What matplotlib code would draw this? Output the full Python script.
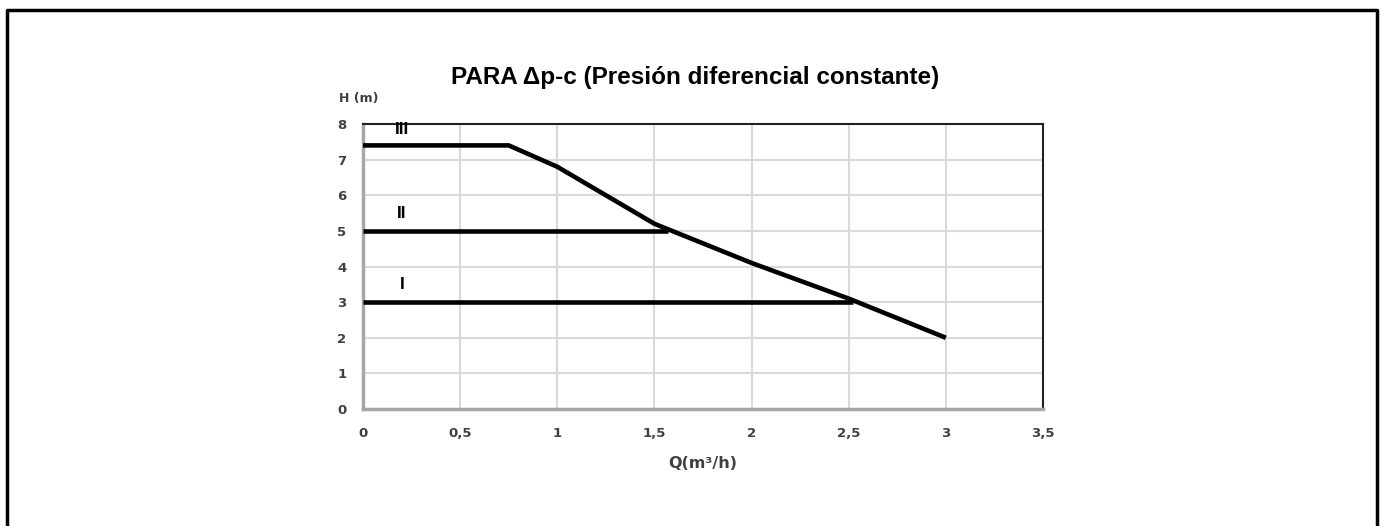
import matplotlib.pyplot as plt
from matplotlib.lines import Line2D

# curve data
q_curve = [0, 0.75, 1, 1.5, 2, 2.5, 3]
h_curve = [7.4, 7.4, 6.8, 5.2, 4.1, 3.1, 2.0]
q_II = [0, 1.57]
h_II = [5, 5]
q_I = [0, 2.52]
h_I = [3, 3]
labels = ['III', 'II', 'I']
label_q = [0.2, 0.2, 0.2]
label_h = [7.85, 5.5, 3.5]

xticks = [0, 0.5, 1, 1.5, 2, 2.5, 3, 3.5]
xticklabels = ['0', '0,5', '1', '1,5', '2', '2,5', '3', '3,5']
yticks = list(range(0, 9))

fig = plt.figure(figsize=(13.84, 5.26), dpi=100)
ax = fig.add_axes([0.2623, 0.2224, 0.4913, 0.5418])

ax.plot(q_curve, h_curve, color='black', lw=3.3, solid_capstyle='butt', zorder=3)
ax.plot(q_II, h_II, color='black', lw=3.3, solid_capstyle='butt', zorder=3)
ax.plot(q_I, h_I, color='black', lw=3.3, solid_capstyle='butt', zorder=3)
for t, x, y in zip(labels, label_q, label_h):
    ax.text(x, y, t, fontsize=12.5, fontweight='bold', family='Liberation Sans',
            ha='center', va='center', zorder=4)

ax.set_xlim(0, 3.5)
ax.set_ylim(0, 8)
ax.set_xticks(xticks)
ax.set_xticklabels(xticklabels)
ax.set_yticks(yticks)
ax.grid(True, color='#d9d9d9', lw=1.5)
ax.set_axisbelow(True)
ax.tick_params(length=0, labelsize=9.5, labelcolor='#404040')
ax.tick_params(axis='x', pad=13)
ax.tick_params(axis='y', pad=12)
for lab in ax.get_xticklabels() + ax.get_yticklabels():
    lab.set_fontweight('bold')

for s in ['left', 'bottom']:
    ax.spines[s].set_color('#a6a6a6')
    ax.spines[s].set_linewidth(2.5)
for s in ['top', 'right']:
    ax.spines[s].set_color('#222222')
    ax.spines[s].set_linewidth(1.5)

fig.text(0.502, 0.853, 'PARA \u0394p-c (Presión diferencial constante)', fontsize=17.5,
         fontweight='bold', family='Liberation Sans', ha='center', va='center')
fig.text(0.2595, 0.812, 'H (m)', fontsize=9, fontweight='bold', color='#404040',
         ha='center', va='center')
fig.text(0.508, 0.119, 'Q(m\u00b3/h)', fontsize=11.5, fontweight='bold', color='#404040',
         ha='center', va='center')

# outer frame (left, top, right)
W, H = 1384, 526
fig.add_artist(Line2D([7 / W, 7 / W, 1377 / W, 1377 / W], [0, 1 - 10 / H, 1 - 10 / H, 0],
                      color='black', lw=2.5, transform=fig.transFigure))

fig.savefig('out.png', dpi=100)
